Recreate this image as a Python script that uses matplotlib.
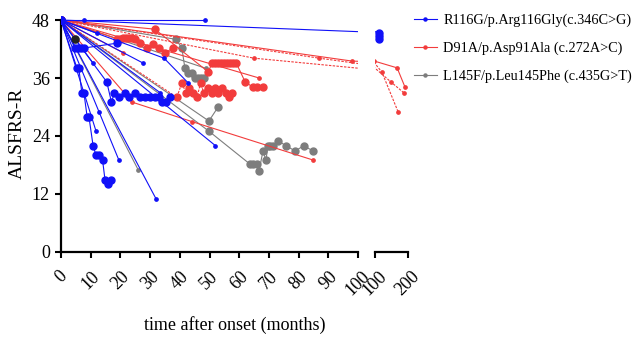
import matplotlib
matplotlib.use('Agg')
import matplotlib.pyplot as plt
from matplotlib.lines import Line2D

plt.rcParams['font.family'] = ['Liberation Serif', 'DejaVu Serif']

# ---------------- data (months after onset, ALSFRS-R score) ----------------
blue_months = [
    [0, 7.7, 48.5],
    [0, 112, 112, 112],
    [0, 15.4, 17, 18, 19.5, 21.5, 23, 25, 26.7, 28.4, 30, 31.7, 33, 34, 35.5, 36.7],
    [0, 5.4, 6, 7, 7.7, 8.8, 9.4, 10.8, 11.8, 12.8, 14, 14.8, 15.8, 16.8],
    [0, 4.7, 5.7, 6.7, 7.7, 18.8],
    [0, 12.8, 19.5],
    [0, 32],
    [0, 11.8],
    [0, 10.8],
    [0, 27.6],
    [0, 34.7, 42.8],
    [0, 52],
    [0, 12],
    [0, 33.3],
]
blue_scores = [
    [48, 48, 48],
    [48, 45.3, 44.6, 44.1],
    [48, 35.2, 31, 33, 32, 33, 32, 33, 32, 32, 32, 32, 32, 31, 31, 32],
    [48, 38, 38, 33, 33, 28, 28, 22, 20, 20, 19, 15, 14, 15],
    [48, 42.2, 42.2, 42.2, 42.2, 43.2],
    [48, 29, 19],
    [48, 11],
    [48, 25],
    [48, 39.1],
    [48, 39.1],
    [48, 40.1, 35],
    [48, 22],
    [48, 45.3],
    [48, 33],
]
blue_dense = [1, 2, 3, 4]

red_months = [
    [0, 19, 20, 21, 22, 23, 24, 25, 26.6, 29, 31, 33, 35, 37.7],
    [0, 31.6, 49.5, 51, 52, 53, 54, 55, 56, 57, 58, 59, 62, 64.6, 66, 68],
    [0, 39, 40.7, 42, 43.2, 44.5, 45.8, 47, 48, 49.5, 50.7, 52, 53, 54.2, 55.5, 56.5, 57.5],
    [0, 98, 167, 191],
    [0, 87, 121, 170],
    [0, 65, 148, 188],
    [0, 24, 44, 85],
    [0, 66.7],
    [0, 21],
]
red_scores = [
    [48, 44.1, 44.1, 44.3, 44.3, 44.3, 44.3, 44.1, 43.2, 42.2, 43, 42.2, 41.2, 42.2],
    [48, 46.1, 37.3, 39.1, 39.1, 39.1, 39.1, 39.1, 39.1, 39.1, 39.1, 39.1, 35.2, 34.1, 34.1, 34.1],
    [48, 32, 35, 33, 34, 33, 32, 35, 33, 34, 33, 34, 33, 34, 33, 32, 33],
    [48, 39.5, 38.1, 34.1],
    [48, 40.1, 37.2, 29],
    [48, 40.1, 35.2, 32.9],
    [48, 31, 27, 19],
    [48, 36],
    [48, 41.2],
]
red_dense = [0, 1, 2]
red_dashed = [2, 4, 5]

gray_months = [
    [0, 38.7, 40.7, 41.7, 42.7, 44, 45.2, 46.2, 47.2, 48.2],
    [0, 49.8, 63.6, 64.8, 66, 66.7, 68, 69, 69.7, 70.5, 71.4, 73, 75.8, 78.8, 81.8, 84.8],
    [0, 49.8, 52.9],
    [0, 26],
    [0, 48.8],
    [0, 4.7],
]
gray_scores = [
    [48, 44, 42.2, 38.1, 37, 37, 36, 36, 36, 36],
    [48, 25, 18.2, 18.2, 18.2, 16.8, 20.9, 19, 22, 22, 22, 23, 22, 20.9, 22, 20.9],
    [48, 27.1, 30],
    [48, 17],
    [48, 38],
    [48, 44],
]
gray_dense = [0, 1, 2, 5]

legend_labels = ['R116G/p.Arg116Gly(c.346C>G)',
                 'D91A/p.Asp91Ala (c.272A>C)',
                 'L145F/p.Leu145Phe (c.435G>T)']
x_ticks_1 = [0, 10, 20, 30, 40, 50, 60, 70, 80, 90, 100]
x_ticks_2 = [100, 200]
y_ticks = [0, 12, 24, 36, 48]

# ---------------- styling ----------------
BLUE = '#1010f8'
RED = '#f23c3c'
GRAY = '#7d7d7d'
LW = 0.8
MS_SMALL = 2.4
MS_BIG = 5.0

W, H = 632, 337
fig = plt.figure(figsize=(W / 100, H / 100), dpi=100)
y_bot = 252
px_per_unit = (252 - 20) / 48.0
ytop_val = 49
y_top = y_bot - ytop_val * px_per_unit
ax1 = fig.add_axes([61 / W, 1 - y_bot / H, (358 - 61) / W, (y_bot - y_top) / H])
ax2 = fig.add_axes([375 / W, 1 - y_bot / H, (408 - 375) / W, (y_bot - y_top) / H])


def draw(ax, months, scores, color, dense, dashed=()):
    for i, (m, s) in enumerate(zip(months, scores)):
        ls = (0, (2.2, 1.2)) if i in dashed else '-'
        ms = MS_BIG if i in dense else MS_SMALL
        ax.plot(m, s, color=color, lw=LW, ls=ls, marker='o', ms=ms,
                mec=color, mfc=color, zorder=3)


for ax in (ax1, ax2):
    draw(ax, gray_months, gray_scores, GRAY, gray_dense)
    draw(ax, red_months, red_scores, RED, red_dense, red_dashed)
    draw(ax, blue_months, blue_scores, BLUE, blue_dense)
    ax.set_ylim(0, ytop_val)
    ax.spines['top'].set_visible(False)
    ax.spines['right'].set_visible(False)
    ax.spines['bottom'].set_linewidth(1.6)
    ax.spines['left'].set_linewidth(1.6)
    ax.tick_params(axis='both', direction='out', length=4.5, width=1.5,
                   labelsize=13, colors='black')
    ax.tick_params(axis='x', pad=7)
    ax.patch.set_alpha(0)

# a darker marker near origin (overlapping symbols)
ax1.plot([4.7], [44], 'o', color='#222222', ms=MS_BIG, zorder=4)

ax1.set_xlim(0, 100)
ax1.set_xticks(x_ticks_1)
ax1.set_xticklabels([str(t) for t in x_ticks_1], rotation=45)
ax1.set_yticks(y_ticks)
ax1.set_yticklabels([str(t) for t in y_ticks])
ax1.spines['left'].set_bounds(0, 48)
ax1.set_ylabel('ALSFRS-R', fontsize=14, labelpad=4)

ax2.set_xlim(100, 200)
ax2.set_xticks(x_ticks_2)
ax2.set_xticklabels([str(t) for t in x_ticks_2], rotation=45)
ax2.spines['left'].set_visible(False)
ax2.set_yticks([])

fig.text(234.5 / W, 1 - 325 / H, 'time after onset (months)', ha='center',
         va='center', fontsize=13)

handles = [Line2D([0], [0], color=c, lw=LW, marker='o', ms=2.2)
           for c in (BLUE, RED, GRAY)]
fig.legend(handles, legend_labels, loc='upper left',
           bbox_to_anchor=(414 / W, 1 - 14 / H), frameon=False, fontsize=10.3,
           handlelength=1.6, handletextpad=0.45, labelspacing=1.0,
           borderpad=0, borderaxespad=0)

fig.savefig('out.png', dpi=100)
